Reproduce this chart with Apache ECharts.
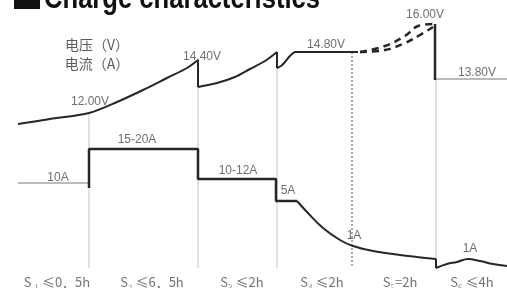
<!DOCTYPE html>
<html><head><meta charset="utf-8">
<script src="https://cdn.jsdelivr.net/npm/echarts@6/dist/echarts.min.js"></script>
<style>html,body{margin:0;padding:0;background:#fff}#c{width:507px;height:288px}</style>
</head><body><div id="c"></div>
<script>
// Schematic chart: x = schematic time position, y = schematic level (axis runs downward)
const stageNames = ['S ₁ ≤0．5h', 'S₂ ≤6．5h', 'S₃ ≤2h', 'S₄ ≤2h', 'S₅=2h', 'S₆ ≤4h'];
const stageLabelX = [57, 152, 242, 322, 400, 472];
const stageBoundaryX = [89, 198, 277, 436];
const stageBoundaryTop = [113, 61, 68, 80];
const absorptionEndX = 352;

// Voltage curve pieces
const voltageBulk1 = [[18,124],[50,119],[89,113],[117,102],[143,90],[167,78],[187,68],[198,60]];
const voltageDrop1 = [[198,60],[198,87]];
const voltageBulk2 = [[198,87],[217,83],[235,77],[250,69],[265,61],[277,52]];
const voltageDrop2 = [[277,52],[277,68]];
const voltageAbsorb = [[277,68],[281,66],[285,62],[289,57],[292,54],[295,52],[358,52]];
const voltageBoostUpper = [[360,52],[385,46],[405,36],[418,26],[433,24]];
const voltageBoostLower = [[360,52],[385,50],[405,43],[420,35],[433,27]];
const voltageEqualDrop = [[435,24],[435,80]];
const voltageFloat = [[436,79],[507,79]];

// Current curve pieces
const currentS1 = [[18,183],[89,183]];
const currentStep = [[89,188],[89,149],[198,149],[198,179],[276,179],[276,201],[297,201]];
const currentTaper = [[297,201],[307,212],[323,228],[340,240],[353,246],[373,251],[400,255],[417,257],[436,259]];
const currentDrop = [[436,259],[436,268]];
const currentFloat = [[436,268],[447,264],[457,262],[468,259],[480,261],[493,264],[507,266]];

const voltageLabels = [['12.00V',90,102],['14.40V',202,57],['14.80V',326,45],['16.00V',425,15],['13.80V',477,73]];
const currentLabels = [['10A',58,178],['15-20A',137,140],['10-12A',238,171],['5A',288,191],['1A',354,236],['1A',470,249]];
const axisTitles = ['电压（V）', '电流（A）'];

const chart = echarts.init(document.getElementById('c'));
const DARK = '#262626';
function line(data, opts) {
  return Object.assign({
    type: 'line', data: data, symbol: 'none', silent: true, animation: false,
    lineStyle: { color: DARK, width: 2 }
  }, opts || {});
}
const series = [];
// gridlines
stageBoundaryX.forEach((x, i) => {
  series.push(line([[x, stageBoundaryTop[i]], [x, 268]], { lineStyle: { color: '#c4c4c4', width: 1 }, z: 1 }));
});
series.push(line([[absorptionEndX, 52], [absorptionEndX, 268]], { lineStyle: { color: '#555', width: 1, type: [2, 2] }, z: 1 }));
// voltage
series.push(line(voltageBulk1, { smooth: 0.3 }));
series.push(line(voltageDrop1));
series.push(line(voltageBulk2, { smooth: 0.3 }));
series.push(line(voltageDrop2));
series.push(line(voltageAbsorb, { smooth: 0.2 }));
series.push(line(voltageBoostUpper, { smooth: 0.4, lineStyle: { color: DARK, width: 2.5, type: [7, 5] } }));
series.push(line(voltageBoostLower, { smooth: 0.4, lineStyle: { color: DARK, width: 2.5, type: [7, 5] } }));
series.push(line(voltageEqualDrop, { lineStyle: { color: DARK, width: 2.5 } }));
series.push(line(voltageFloat, { lineStyle: { color: '#777', width: 1 } }));
// current
series.push(line(currentS1, { lineStyle: { color: '#777', width: 1 } }));
series.push(line(currentStep, { lineStyle: { color: DARK, width: 2.5 } }));
series.push(line(currentTaper, { smooth: 0.4 }));
series.push(line(currentDrop));
series.push(line(currentFloat, { smooth: 0.4 }));
// labels
const labelData = voltageLabels.concat(currentLabels).map(l => ({ value: [l[1], l[2]], name: l[0] }));
series.push({
  type: 'scatter', data: labelData, symbolSize: 0, silent: true, animation: false, z: 5,
  label: { show: true, position: 'inside', formatter: '{b}', color: '#4a4a4a', fontSize: 12,
    fontFamily: 'Liberation Sans, Arial, sans-serif' }
});
series.push({
  type: 'scatter', data: stageNames.map((n, i) => ({ value: [stageLabelX[i], 282], name: n })),
  symbolSize: 0, silent: true, animation: false, z: 5,
  label: { show: true, position: 'inside', formatter: '{b}', color: '#4d4d4d', fontSize: 13,
    fontFamily: 'Noto Sans CJK SC' }
});
series.push({
  type: 'scatter', data: axisTitles.map((n, i) => ({ value: [97, 45 + i * 19], name: n })),
  symbolSize: 0, silent: true, animation: false, z: 5,
  label: { show: true, position: 'inside', formatter: '{b}', color: '#333', fontSize: 14,
    fontFamily: 'Noto Sans CJK SC' }
});

chart.setOption({
  animation: false,
  grid: { left: 0, right: 0, top: 0, bottom: 0 },
  xAxis: { type: 'value', min: 0, max: 507, show: false },
  yAxis: { type: 'value', min: 0, max: 288, inverse: true, show: false },
  graphic: [
    { type: 'rect', shape: { x: 14, y: -20, width: 26, height: 29 }, style: { fill: '#111' } },
    { type: 'text', x: 44, y: -1, scaleX: 0.8, style: { text: 'Charge characteristics', fill: '#111',
      font: '900 32px "Liberation Sans", Arial, sans-serif', verticalAlign: 'middle', align: 'left' } }
  ],
  series: series
});
</script></body></html>
